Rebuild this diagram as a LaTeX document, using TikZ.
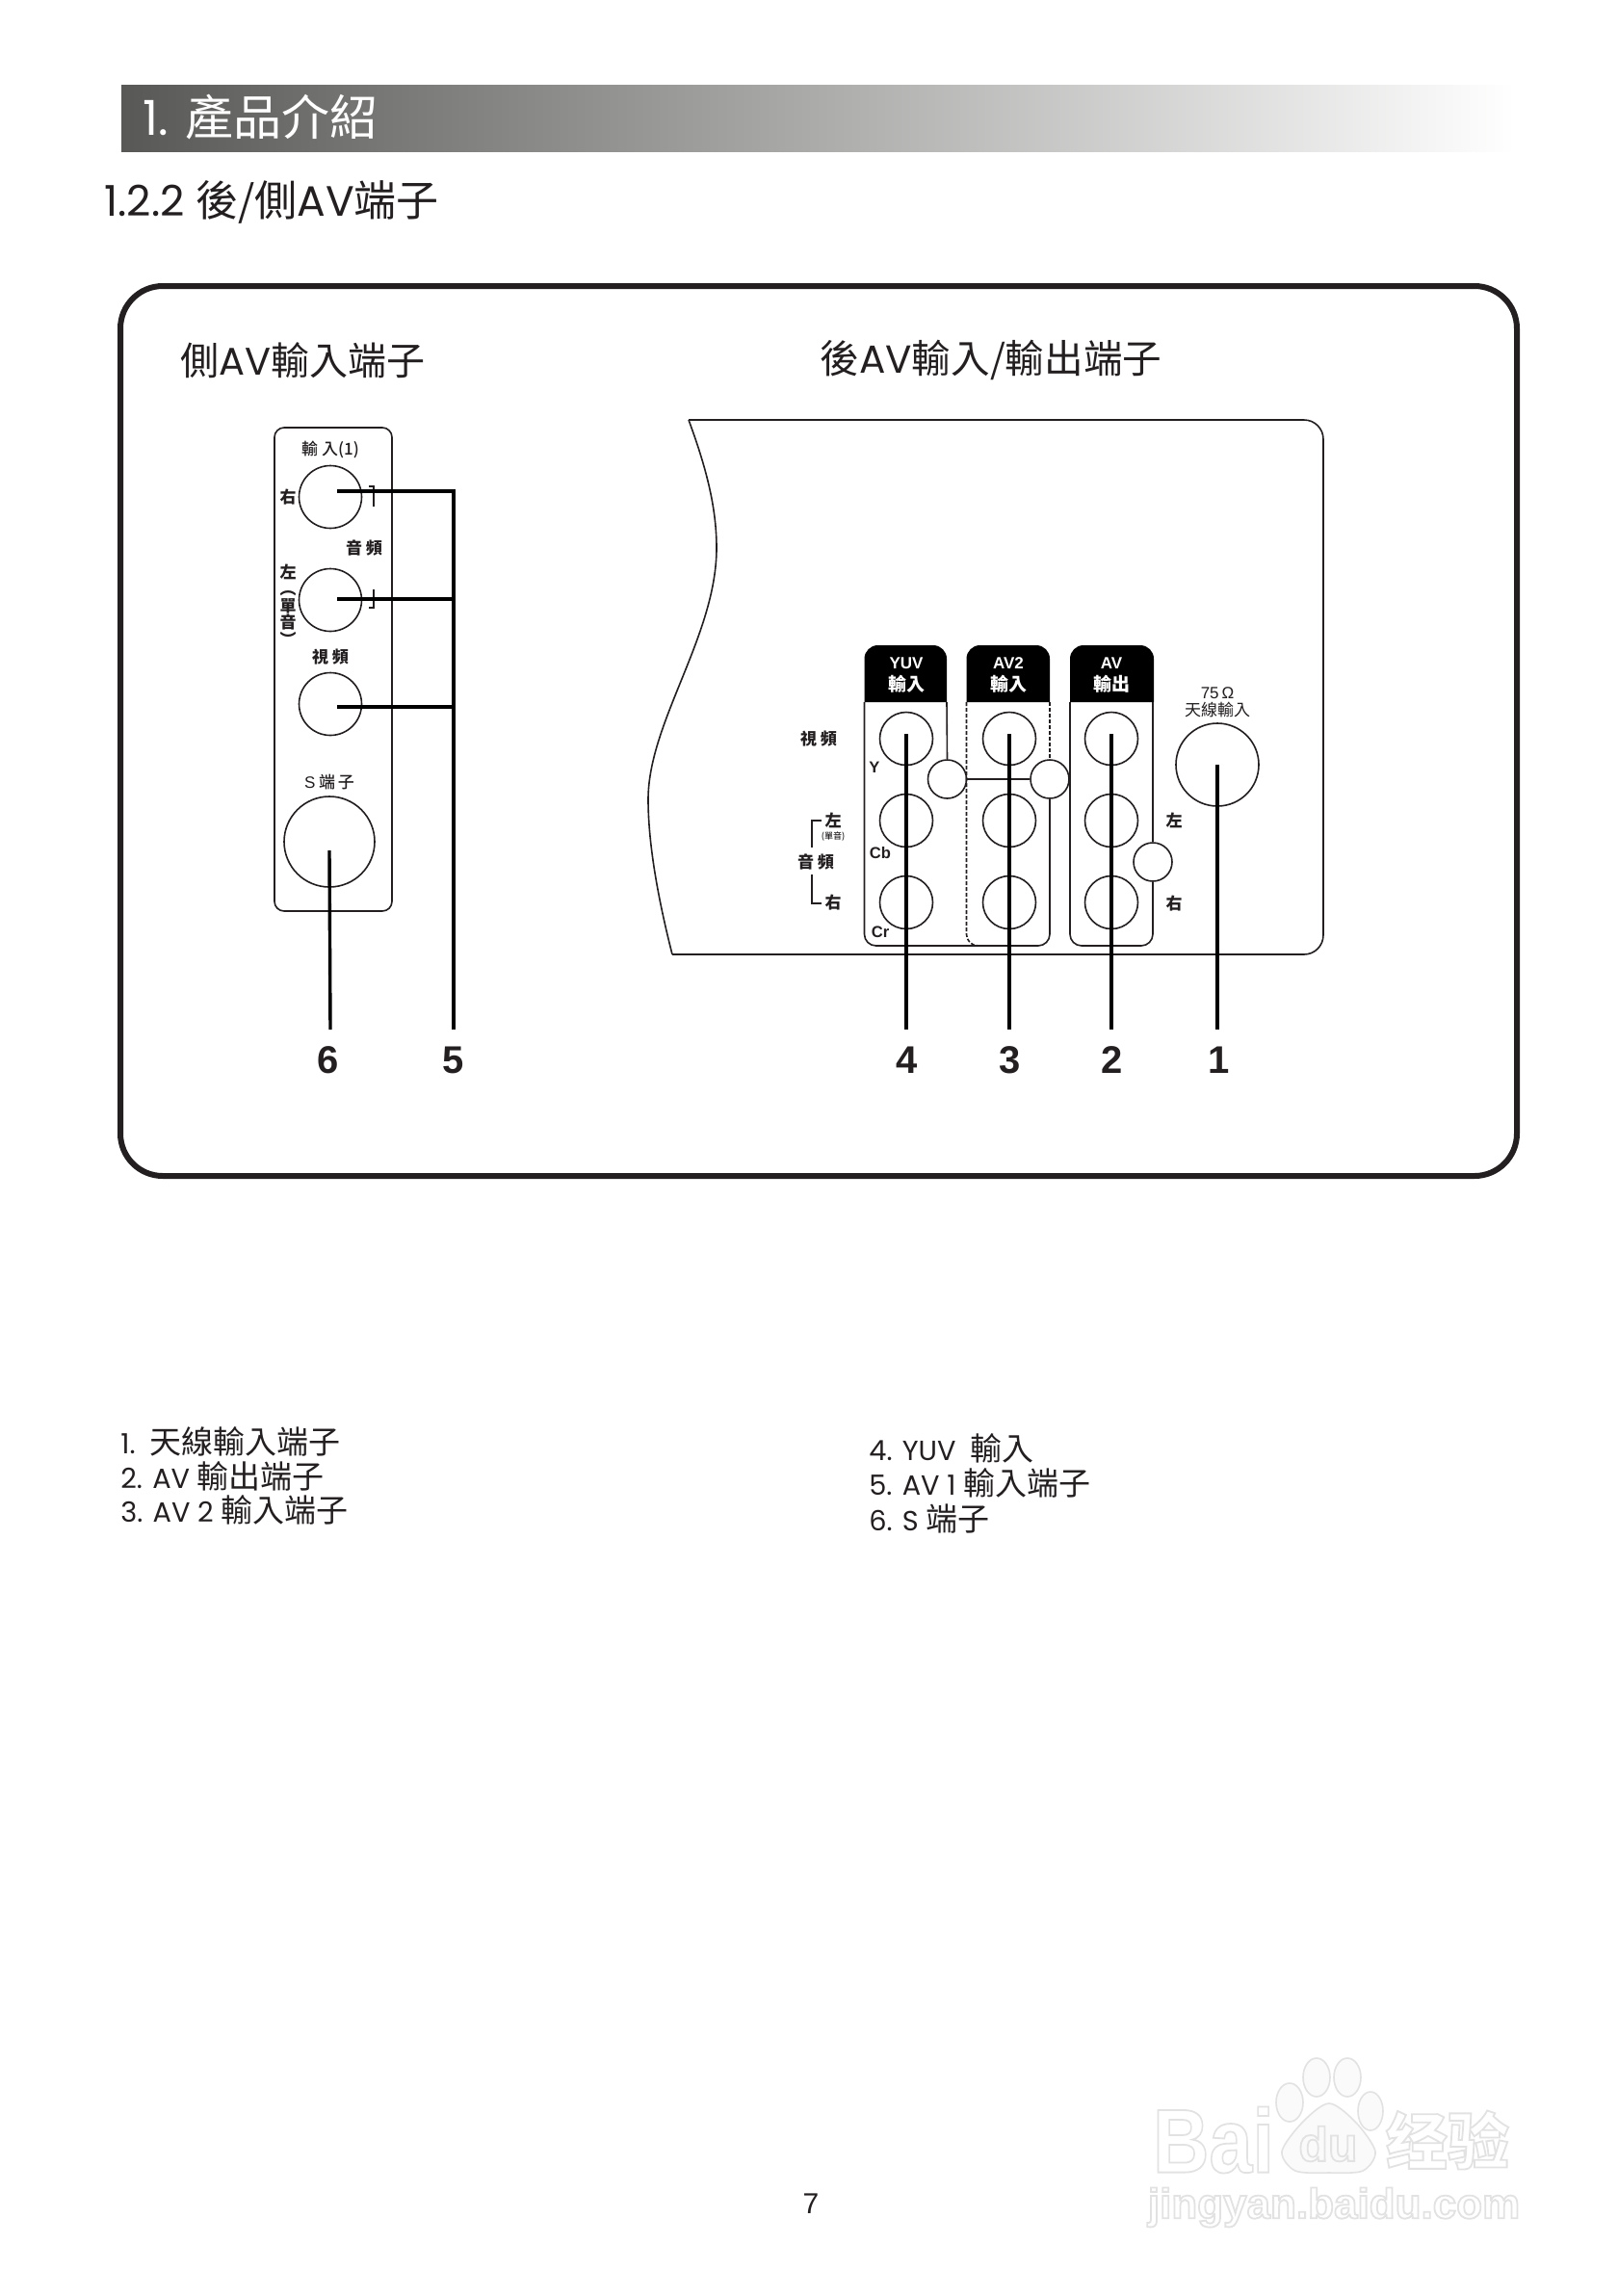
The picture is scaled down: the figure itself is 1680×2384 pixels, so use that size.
\documentclass[tikz,border=0pt]{standalone}
\usepackage{fontspec}
\setmainfont{Poppins}
\newfontfamily\cjk{Noto Sans CJK TC}
\newfontfamily\cjkmed{Noto Sans CJK TC Medium}
\newfontfamily\cjksc{Noto Sans CJK SC}
\newfontfamily\lab{Liberation Sans}
\newcommand{\cj}[1]{{\cjk #1}}
\newcommand{\wmstroke}[1]{\special{pdf:code q 1 Tr 0.9 w}#1\special{pdf:code Q}}
\definecolor{inkblack}{RGB}{35,31,32}
\definecolor{barstart}{RGB}{88,88,86}
\definecolor{barmid}{RGB}{165,165,165}
\definecolor{wmline}{RGB}{226,226,226}
\definecolor{wmfill}{RGB}{250,250,250}

\begin{document}
\begin{tikzpicture}[x=0.5pt,y=-0.5pt]
	\tikzset{every node/.style={inner sep=0pt,text=inkblack}}
	\tikzset{jack/.style={circle,draw=inkblack,line width=0.8pt,fill=white,minimum size=27.5pt}}
	\tikzset{sidejack/.style={jack,minimum size=32.5pt}}
	\tikzset{bigjack/.style={jack,minimum size=#1}}
	\tikzset{linkjack/.style={jack,minimum size=20pt}}
	\tikzset{thinline/.style={draw=inkblack,line width=0.8pt}}
	\tikzset{leader/.style={draw=black,line width=1.7pt}}
	\tikzset{callout/.style={font=\lab\bfseries\fontsize{20}{20}\selectfont}}
	\tikzset{small/.style={font=\cjk\bfseries\fontsize{8.5}{8.8}\selectfont}}
	\tikzset{smallthin/.style={font=\cjkmed\fontsize{8.5}{10}\selectfont}}
	\tikzset{tag/.style={font=\lab\bfseries\fontsize{8.3}{9}\selectfont}}
	\tikzset{headtext/.style={align=center,text=white,font=\lab\bfseries\fontsize{8.5}{11.5}\selectfont}}
	\tikzset{listitem/.style={anchor=west,font=\fontsize{14.4}{16}\selectfont}}
	\useasboundingbox (0,0) rectangle (1680,2384);
	\fill[white] (0,0) rectangle (1680,2384);

	\shade[left color=barstart,middle color=barmid,right color=white] (126,88) rectangle (1573,157);
	\node[anchor=west,text=white,font=\fontsize{25}{26}\selectfont] (pagetitle) at (148,122) {1. \cj{產品介紹}};
	\node[anchor=west,font=\fontsize{22}{24}\selectfont] (sectitle) at (108,210) {1.2.2 \cj{後/側}AV\cj{端子}};

	\draw[draw=inkblack,line width=3pt,rounded corners=22pt] (125,297) rectangle (1575,1221);
	\node[anchor=west,font=\fontsize{20}{22}\selectfont] (sidetitle) at (187,374) {\cj{側}AV\cj{輸入端子}};
	\node[anchor=west,font=\fontsize{20.3}{22}\selectfont] (reartitle) at (851,374) {\cj{後}AV\cj{輸入/輸出端子}};

	\draw[thinline,rounded corners=5pt] (285,444) rectangle (407,946);
	\node[sidejack] (sideR) at (343,516) {};
	\node[sidejack] (sideL) at (343,623) {};
	\node[sidejack] (sideV) at (343,731) {};
	\node[bigjack=47pt] (sideS) at (342,874) {};
	\node[smallthin] (sidein) at (343,467) {輸 入(1)};
	\node[small] (sideRtxt) at (299,516) {右};
	\node[small,align=center] (sideLtxt) at (299,628) {左\\︵\\單\\音\\︶};
	\node[small] (sideaudio) at (378,569) {音 頻};
	\node[small] (sidevideo) at (343,682) {視 頻};
	\node[smallthin] (sidesv) at (342,812) {{\lab S}\ 端\,子};
	\draw[draw=inkblack,line width=0.7pt] (383,505) -- (388,505) -- (388,526);
	\draw[draw=inkblack,line width=0.7pt] (388,612) -- (388,631) -- (383,631);

	\draw[thinline,rounded corners=10pt] (698,991) -- (1374,991) -- (1374,436) -- (715,436);
	\draw[thinline] (715,436) .. controls (735,490) and (744,530) .. (744,569)
		.. controls (744,660) and (673,750) .. (673,830)
		.. controls (673,880) and (685,940) .. (698,991);

	\foreach \l/\r in {897.5/983,1003.5/1090,1111/1198}{
		\fill[black] (\l,729) [rounded corners=7pt] -- (\l,670) -- (\r,670) [sharp corners] -- (\r,729) -- cycle;
	}
	\node[linkjack] (linkA) at (983.5,809) {};
	\node[linkjack] (linkB) at (1090,809) {};
	\node[linkjack] (linkC) at (1197,895) {};
	\draw[thinline] (983,729) -- (linkA.north);
	\draw[thinline] (linkA.east) -- (linkB.west);
	\draw[thinline,rounded corners=6pt] (897.5,729) -- (897.5,982) -- (1090,982) -- (linkB.south);
	\draw[thinline,dash pattern=on 2pt off 1pt,rounded corners=6pt] (1003.5,729) -- (1003.5,982) -- (1018,982);
	\draw[thinline,dash pattern=on 2pt off 1pt] (1090,729) -- (linkB.north);
	\draw[thinline] (1197,729) -- (linkC.north);
	\draw[thinline,rounded corners=6pt] (1111,729) -- (1111,982) -- (1197,982) -- (linkC.south);

	\node[jack] (yuvY) at (941,767) {};
	\node[jack] (yuvCb) at (941,852) {};
	\node[jack] (yuvCr) at (941,937) {};
	\node[jack] (avtwoV) at (1048,767) {};
	\node[jack] (avtwoL) at (1048,852) {};
	\node[jack] (avtwoR) at (1048,937) {};
	\node[jack] (avoutV) at (1154,767) {};
	\node[jack] (avoutL) at (1154,852) {};
	\node[jack] (avoutR) at (1154,937) {};
	\node[bigjack=43pt] (antenna) at (1264,794) {};

	\node[headtext] (yuvhead) at (941,701) {YUV\\{\cjkmed\fontsize{9.5}{11.5}\selectfont 輸入}};
	\node[headtext] (avtwohead) at (1047,701) {AV2\\{\cjkmed\fontsize{9.5}{11.5}\selectfont 輸入}};
	\node[headtext] (avouthead) at (1154,701) {AV\\{\cjkmed\fontsize{9.5}{11.5}\selectfont 輸出}};
	\node[align=center,font=\fontsize{8.5}{9}\selectfont] (antennatxt) at (1264,729) {\lab 75\,Ω\\\cj{天線輸入}};
	\node[small] (rearvideo) at (850,767) {視 頻};
	\node[small] (rearL) at (865,852) {左};
	\node[font=\cjkmed\fontsize{4.5}{5}\selectfont] (rearmono) at (865,869) {(單音)};
	\node[small] (rearaudio) at (847,895) {音 頻};
	\node[small] (rearR) at (865,937) {右};
	\node[small] (outL) at (1219,852) {左};
	\node[small] (outR) at (1219,938) {右};
	\node[tag] (tagY) at (908,797) {Y};
	\node[tag] (tagCb) at (914,886) {Cb};
	\node[tag] (tagCr) at (914,968) {Cr};
	\draw[draw=inkblack,line width=0.8pt] (853,852) -- (843,852) -- (843,880);
	\draw[draw=inkblack,line width=0.8pt] (843,908) -- (843,938) -- (853,938);

	\coordinate (endsix) at (343,1069);
	\coordinate (endfive) at (471,1069);
	\coordinate (endfour) at (941,1069);
	\coordinate (endthree) at (1048,1069);
	\coordinate (endtwo) at (1154,1069);
	\coordinate (endone) at (1264,1069);
	\coordinate (turnfive) at (471,510);
	\coordinate (midfive) at (471,622);
	\coordinate (lowfive) at (471,734);
	\draw[leader] ([xshift=3.5pt,yshift=3pt]sideR.center) -- (turnfive) -- (endfive);
	\draw[leader] ([xshift=3.5pt,yshift=0.5pt]sideL.center) -- (midfive);
	\draw[leader] ([xshift=3.5pt,yshift=-1.5pt]sideV.center) -- (lowfive);
	\draw[leader] ([yshift=-4.5pt]sideS.center) -- (endsix);
	\draw[leader] ([yshift=2.5pt]yuvY.center) -- (endfour);
	\draw[leader] ([yshift=2.5pt]avtwoV.center) -- (endthree);
	\draw[leader] ([yshift=2.5pt]avoutV.center) -- (endtwo);
	\draw[leader] (antenna.center) -- (endone);
	\node[callout] (numsix) at (341,1101) {6};
	\node[callout] (numfive) at (471,1101) {5};
	\node[callout] (numfour) at (942,1101) {4};
	\node[callout] (numthree) at (1049,1101) {3};
	\node[callout] (numtwo) at (1155,1101) {2};
	\node[callout] (numone) at (1266,1101) {1};

	\node[listitem] (itemone) at (125,1497) {1.\, {\fontsize{16.5}{16}\cjk\selectfont 天線輸入端子}};
	\node[listitem] (itemtwo) at (125,1533) {2. AV {\fontsize{16.5}{16}\cjk\selectfont 輸出端子}};
	\node[listitem] (itemthree) at (125,1568) {3. AV 2 {\fontsize{16.5}{16}\cjk\selectfont 輸入端子}};
	\node[listitem] (itemfour) at (902,1504) {4. YUV\ \ {\fontsize{16.5}{16}\cjk\selectfont 輸入}};
	\node[listitem] (itemfive) at (902,1540) {5. AV 1 {\fontsize{16.5}{16}\cjk\selectfont 輸入端子}};
	\node[listitem] (itemsix) at (902,1577) {6. S {\fontsize{16.5}{16}\cjk\selectfont 端子}};
	\node[font=\lab\fontsize{15}{15}\selectfont] (pagenum) at (842,2288) {7};

	\foreach \px/\py/\rx/\ry in {1339/2183/14/20,1367/2157/14/20,1399/2157/14/20,1423/2192/13/20}{
		\draw[wmline,fill=wmfill,line width=0.8pt] (\px,\py) ellipse ({\rx} and {\ry});
	}
	\draw[wmline,fill=wmfill,line width=0.8pt] plot[smooth cycle] coordinates {(1380,2184) (1352,2204) (1331,2234) (1345,2254) (1380,2256) (1415,2254) (1428,2234) (1408,2204)};
	\node[text=wmline,font=\lab\bfseries\fontsize{47}{47}\selectfont,xscale=0.86] (wmbai) at (1260,2222) {\wmstroke{Bai}};
	\node[text=wmline,font=\lab\bfseries\fontsize{25}{25}\selectfont] (wmdu) at (1379,2226) {\wmstroke{du}};
	\node[text=wmline,font=\cjksc\bfseries\fontsize{32}{32}\selectfont] (wmjy) at (1503,2222) {\wmstroke{经验}};
	\node[text=wmline,font=\lab\bfseries\fontsize{22}{22}\selectfont] (wmurl) at (1385,2292) {\wmstroke{jingyan.baidu.com}};
\end{tikzpicture}
\end{document}
